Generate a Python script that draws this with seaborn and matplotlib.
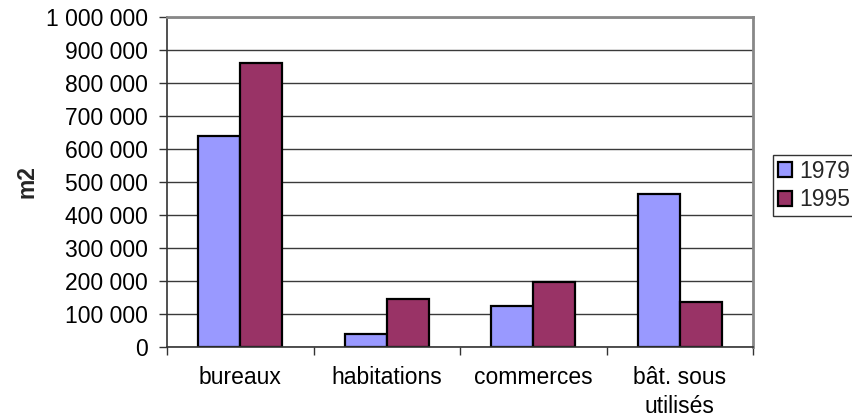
import matplotlib
matplotlib.use("Agg")
import matplotlib.pyplot as plt
from matplotlib.ticker import FixedLocator, FuncFormatter
import pandas as pd
import seaborn as sns

# Surfaces par type de bâtiment (m2)
categories = ["bureaux", "habitations", "commerces", "bât. sous\nutilisés"]
years = ["1979", "1995"]
values_1979 = [640000, 40000, 125000, 465000]
values_1995 = [862000, 145000, 197000, 135000]
y_ticks = [0, 100000, 200000, 300000, 400000, 500000, 600000, 700000, 800000, 900000, 1000000]

df = pd.DataFrame({
    "categorie": categories * 2,
    "annee": [years[0]] * len(categories) + [years[1]] * len(categories),
    "surface": values_1979 + values_1995,
})

sns.set_theme(style="white")
plt.rcParams["font.family"] = ["Liberation Sans", "DejaVu Sans"]

FS = 16.5

fig = plt.figure(figsize=(8.53, 4.17), dpi=100)
ax = fig.add_axes([0.1958, 0.1679, 0.6870, 0.7913])

palette = {"1979": "#9999FF", "1995": "#993366"}
sns.barplot(data=df, x="categorie", y="surface", hue="annee", order=categories,
            hue_order=years, palette=palette, width=0.573, saturation=1,
            edgecolor="black", linewidth=1.6, ax=ax, legend=True)

ax.set_xlim(-0.5, 3.5)
ax.set_ylim(0, 1000000)
ax.yaxis.set_major_locator(FixedLocator(y_ticks))
ax.yaxis.set_major_formatter(FuncFormatter(lambda v, p: f"{int(v):,}".replace(",", " ")))
ax.grid(axis="y", color="#3a3a3a", linewidth=1.0)
ax.set_axisbelow(True)

# tick marks sit between categories, labels at category centres
ax.set_xticks(range(len(categories)))
ax.set_xticklabels(categories, fontsize=FS, linespacing=1.3)
ax.xaxis.set_minor_locator(FixedLocator([-0.5, 0.5, 1.5, 2.5, 3.5]))
ax.tick_params(axis="x", which="major", length=0, pad=14, colors="black")
ax.tick_params(axis="x", which="minor", bottom=True, length=6, width=1, color="#333333")
ax.tick_params(axis="y", which="major", left=True, length=6, width=1, color="#333333",
               labelsize=FS, pad=8, labelcolor="black")

for side in ("top", "right"):
    ax.spines[side].set_color("#888888")
    ax.spines[side].set_linewidth(2)
for side in ("left", "bottom"):
    ax.spines[side].set_color("#333333")
    ax.spines[side].set_linewidth(1.2)

ax.set_xlabel("")
ax.set_ylabel("m2", fontsize=FS, fontweight="bold")
ax.yaxis.set_label_coords(-0.22, 0.5)

handles, labels = ax.get_legend_handles_labels()
ax.legend(handles, labels, loc="upper left", bbox_to_anchor=(773 / 853, 1 - 155 / 417),
          bbox_transform=fig.transFigure, frameon=True, fancybox=False,
          edgecolor="black", fontsize=FS, handlelength=0.65, handleheight=0.65,
          handletextpad=0.3, borderpad=0.2, labelspacing=0.25, borderaxespad=0)
ax.get_legend().get_frame().set_linewidth(1.0)

fig.savefig("out.png", dpi=100)
